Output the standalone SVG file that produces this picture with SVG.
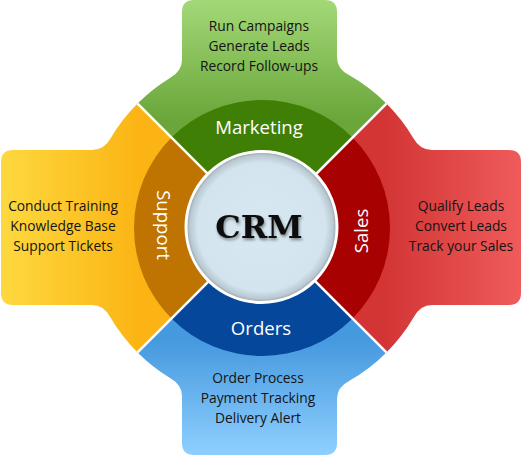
<svg xmlns="http://www.w3.org/2000/svg" width="522" height="456" viewBox="0 0 522 456">
<style>
.box{font-family:"Open Sans","Liberation Sans",sans-serif;font-size:13.8px;fill:#141414;text-anchor:middle}
.lbl{font-family:"Open Sans","Liberation Sans",sans-serif;font-size:18.6px;fill:#ffffff;text-anchor:middle}
.sep{stroke:#ffffff;stroke-width:2.5;fill:none}
</style>
<defs>
<linearGradient id="gM" x1="0" y1="0" x2="0" y2="120" gradientUnits="userSpaceOnUse"><stop offset="0" stop-color="#a3d877"/><stop offset="1" stop-color="#6aa63a"/></linearGradient>
<linearGradient id="gS" x1="385" y1="0" x2="521" y2="0" gradientUnits="userSpaceOnUse"><stop offset="0" stop-color="#d33535"/><stop offset="1" stop-color="#ef5b5b"/></linearGradient>
<linearGradient id="gO" x1="0" y1="340" x2="0" y2="455" gradientUnits="userSpaceOnUse"><stop offset="0" stop-color="#4599de"/><stop offset="1" stop-color="#8fcfff"/></linearGradient>
<linearGradient id="gP" x1="0" y1="0" x2="140" y2="0" gradientUnits="userSpaceOnUse"><stop offset="0" stop-color="#fdd93f"/><stop offset="1" stop-color="#fbb414"/></linearGradient>
<radialGradient id="gC" cx="0.5" cy="0.5" r="0.5"><stop offset="0" stop-color="#d8e8f2"/><stop offset="0.85" stop-color="#d3e4ee"/><stop offset="0.95" stop-color="#b9c8d1"/><stop offset="1" stop-color="#909da5"/></radialGradient>
<filter id="sh" x="-20%" y="-40%" width="140%" height="180%"><feGaussianBlur in="SourceAlpha" stdDeviation="1.6"/><feOffset dx="1" dy="2" result="b"/><feFlood flood-color="#000" flood-opacity="0.45"/><feComposite in2="b" operator="in"/><feMerge><feMergeNode/><feMergeNode in="SourceGraphic"/></feMerge></filter>
</defs>
<g id="marketing">
<path fill="url(#gM)" d="M262,228 L137.55,103.55 A176,176 0 0,1 170,77.96 Q182,71 182,60 L182,12 Q182,0 194,0 L325,0 Q337,0 337,12 L337,57 Q337,69 349,75 A176,176 0 0,1 386.45,103.55 Z"/>
<path fill="#3f7f06" d="M262,228 L171.49,137.49 A128,128 0 0,1 352.51,137.49 Z"/>
<text class="box" x="259" y="31">Run Campaigns</text>
<text class="box" x="259" y="51">Generate Leads</text>
<text class="box" x="259" y="71">Record Follow-ups</text>
<text class="lbl" x="259" y="134">Marketing</text>
</g>
<g id="sales">
<path fill="url(#gS)" d="M262,228 L386.45,103.55 A176,176 0 0,1 413.25,138 Q419.8,150 432,150 L509,150 Q521,150 521,162 L521,293 Q521,305 509,305 L432,305 Q420.3,305 413.84,317 A176,176 0 0,1 386.45,352.45 Z"/>
<path fill="#a80101" d="M262,228 L352.51,137.49 A128,128 0 0,1 352.51,318.51 Z"/>
<text class="box" x="461" y="211">Qualify Leads</text>
<text class="box" x="461" y="231">Convert Leads</text>
<text class="box" x="461" y="251">Track your Sales</text>
<text class="lbl" transform="translate(362,231) rotate(-90)" x="0" y="6">Sales</text>
</g>
<g id="orders">
<path fill="url(#gO)" d="M262,228 L386.45,352.45 A176,176 0 0,1 349,381 Q337,387.2 337,399 L337,443 Q337,455 325,455 L194,455 Q182,455 182,443 L182,396 Q182,384.8 170,378 A176,176 0 0,1 137.55,352.45 Z"/>
<path fill="#05479a" d="M262,228 L352.51,318.51 A128,128 0 0,1 171.49,318.51 Z"/>
<text class="box" x="258" y="383">Order Process</text>
<text class="box" x="258" y="403">Payment Tracking</text>
<text class="box" x="258" y="423">Delivery Alert</text>
<text class="lbl" x="261" y="335">Orders</text>
</g>
<g id="support">
<path fill="url(#gP)" d="M262,228 L137.55,352.45 A176,176 0 0,1 110.16,317 Q103.7,305 92,305 L13,305 Q1,305 1,293 L1,162 Q1,150 13,150 L92,150 Q104.2,150 110.75,138 A176,176 0 0,1 137.55,103.55 Z"/>
<path fill="#bf7300" d="M262,228 L171.49,318.51 A128,128 0 0,1 171.49,137.49 Z"/>
<text class="box" x="63" y="211">Conduct Training</text>
<text class="box" x="63" y="231">Knowledge Base</text>
<text class="box" x="63" y="251">Support Tickets</text>
<text class="lbl" transform="translate(163,225) rotate(90)" x="0" y="6">Support</text>
</g>
<g id="connectors">
<line class="sep" x1="262" y1="228" x2="137.55" y2="103.55"/>
<line class="sep" x1="262" y1="228" x2="386.45" y2="103.55"/>
<line class="sep" x1="262" y1="228" x2="386.45" y2="352.45"/>
<line class="sep" x1="262" y1="228" x2="137.55" y2="352.45"/>
</g>
<g id="crm">
<circle cx="261.5" cy="227" r="75.5" fill="url(#gC)" stroke="#ffffff" stroke-width="3"/>
<text x="259" y="238" filter="url(#sh)" style="font-family:'DejaVu Serif','Liberation Serif',serif;font-weight:bold;font-size:32px;fill:#111111;text-anchor:middle">CRM</text>
</g>
</svg>
